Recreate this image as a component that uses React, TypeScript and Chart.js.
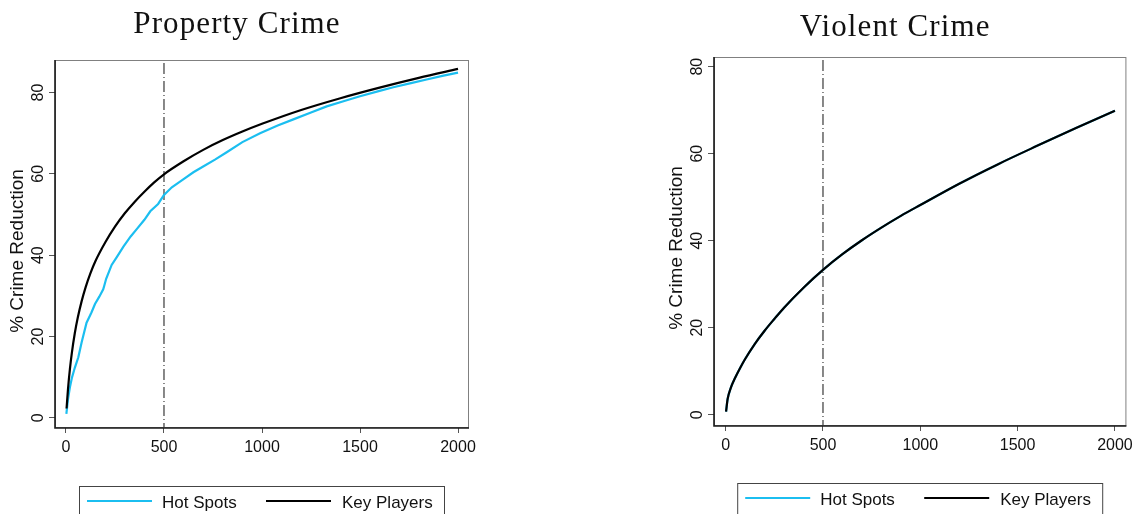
import React, { useEffect, useRef } from "react";
import { Chart, registerables } from "chart.js";

Chart.register(...registerables);

// ---------- data ----------
const xTickValues = [0, 500, 1000, 1500, 2000];
const yTickValues = [0, 20, 40, 60, 80];
const seriesLabels = ["Hot Spots", "Key Players"];
const panelTitles = ["Property Crime", "Violent Crime"];
const yAxisTitle = "% Crime Reduction";
const cutoffValue = 500;

// Property crime – Hot Spots
const propertyHotX = [2, 10, 20, 30, 45, 63, 80, 105, 130, 148, 170, 190, 196, 205, 233, 260, 293, 330, 361, 400, 430, 470, 500, 540, 600, 650, 700, 760, 820, 900, 990, 1080, 1160, 1250, 1330, 1420, 1500, 1600, 1670, 1760, 1840, 1920, 2000];
const propertyHotY = [1.0, 4.5, 7.5, 9.8, 12.3, 14.9, 18.6, 23.4, 25.9, 28.0, 29.8, 31.6, 32.6, 34.2, 37.6, 39.6, 42.1, 44.6, 46.4, 48.7, 50.8, 52.6, 54.8, 56.7, 58.7, 60.4, 61.8, 63.5, 65.3, 67.8, 70.0, 71.9, 73.4, 75.1, 76.6, 77.9, 79.1, 80.4, 81.3, 82.3, 83.2, 84.1, 84.9];

// Property crime – Key Players
const propertyKeyX = [3, 10, 20, 30, 45, 60, 80, 100, 125, 150, 200, 250, 300, 350, 400, 450, 500, 600, 700, 800, 900, 1000, 1200, 1400, 1600, 1800, 2000];
const propertyKeyY = [2.3, 6.9, 12.0, 16.0, 20.8, 24.6, 28.7, 32.1, 35.6, 38.5, 43.1, 47.0, 50.3, 53.1, 55.6, 57.9, 59.9, 63.1, 65.9, 68.3, 70.4, 72.3, 75.7, 78.6, 81.2, 83.6, 85.8];

// Violent crime – Hot Spots (hidden under Key Players)
const violentHotX = [2, 10, 25, 50, 75, 100, 150, 200, 250, 300, 400, 500, 600, 700, 800, 900, 1000, 1200, 1400, 1600, 1800, 2000];
const violentHotY = [0.7, 3.6, 6.0, 8.6, 10.8, 12.8, 16.3, 19.3, 22.0, 24.6, 29.2, 33.3, 36.9, 40.1, 43.0, 45.7, 48.2, 53.1, 57.6, 61.8, 65.9, 69.9];

// Violent crime – Key Players
const violentKeyX = [2, 10, 25, 50, 75, 100, 150, 200, 250, 300, 400, 500, 600, 700, 800, 900, 1000, 1200, 1400, 1600, 1800, 2000];
const violentKeyY = [0.7, 3.6, 6.0, 8.6, 10.8, 12.8, 16.3, 19.3, 22.0, 24.6, 29.2, 33.3, 36.9, 40.1, 43.0, 45.7, 48.2, 53.1, 57.6, 61.8, 65.9, 69.9];

// ---------- styles ----------
const HOT_COLOR = "#1bbef0";
const KEY_COLOR = "#000000";
const SANS = '"Liberation Sans", Arial, Helvetica, sans-serif';
const SERIF = '"Liberation Serif", "Times New Roman", serif';

type Panel = {
  title: string;
  hotX: number[];
  hotY: number[];
  keyX: number[];
  keyY: number[];
  smoothHot: boolean;
  padding: { left: number; top: number; right: number; bottom: number };
  yWidth: number;
  xHeight: number;
  xMin: number;
  xMax: number;
  yMin: number;
  yMax: number;
  titleY: number;
  yTitleCenter: number;
  legendTop: number;
};

const stataPlugin = {
  id: "stata",
  beforeDatasetsDraw(chart: any) {
    const { ctx, chartArea: a, scales } = chart;
    const xp = scales.x.getPixelForValue(cutoffValue);
    ctx.save();
    ctx.strokeStyle = "#3a3a3a";
    ctx.lineWidth = 1.2;
    ctx.setLineDash([11, 3, 1, 3]);
    ctx.beginPath();
    ctx.moveTo(xp, a.top + 3);
    ctx.lineTo(xp, a.bottom);
    ctx.stroke();
    ctx.restore();
  },
  afterDraw(chart: any, _args: any, opts: any) {
    const { ctx, chartArea: a, scales } = chart;
    ctx.save();
    // frame
    ctx.strokeStyle = "#808080";
    ctx.lineWidth = 1;
    ctx.strokeRect(a.left + 0.5, a.top + 0.5, a.right - a.left - 1, a.bottom - a.top - 1);
    ctx.strokeStyle = "#1a1a1a";
    ctx.lineWidth = 1.6;
    ctx.beginPath();
    ctx.moveTo(a.left, a.top);
    ctx.lineTo(a.left, a.bottom);
    ctx.lineTo(a.right, a.bottom);
    ctx.stroke();

    // rotated y tick labels
    ctx.fillStyle = "#111";
    ctx.font = `16px ${SANS}`;
    ctx.textAlign = "center";
    ctx.textBaseline = "alphabetic";
    for (const v of yTickValues) {
      const yp = scales.y.getPixelForValue(v);
      ctx.save();
      ctx.translate(a.left - 12, yp);
      ctx.rotate(-Math.PI / 2);
      ctx.fillText(String(v), 0, 0);
      ctx.restore();
    }

    // y axis title
    ctx.font = `19px ${SANS}`;
    ctx.save();
    ctx.translate(a.left - 32, opts.yTitleCenter);
    ctx.rotate(-Math.PI / 2);
    ctx.fillText(yAxisTitle, 0, 0);
    ctx.restore();

    // panel title
    ctx.font = `31px ${SERIF}`;
    (ctx as any).letterSpacing = "1.1px";
    ctx.fillStyle = "#111";
    ctx.fillText(opts.title, (a.left + a.right) / 2 - 25, opts.titleY);
    (ctx as any).letterSpacing = "0px";

    // legend
    const lw = 366;
    const lx = (a.left + a.right) / 2 - lw / 2;
    const ly = opts.legendTop;
    ctx.fillStyle = "#fff";
    ctx.fillRect(lx, ly, lw, 60);
    ctx.strokeStyle = "#444";
    ctx.lineWidth = 1;
    ctx.strokeRect(lx + 0.5, ly + 0.5, lw - 1, 60);
    const lineY = ly + 15;
    const items = [
      { color: HOT_COLOR, label: seriesLabels[0], x0: 8, tx: 83 },
      { color: KEY_COLOR, label: seriesLabels[1], x0: 187, tx: 263 },
    ];
    ctx.font = `17px ${SANS}`;
    ctx.textAlign = "left";
    for (const it of items) {
      ctx.strokeStyle = it.color;
      ctx.lineWidth = 2.2;
      ctx.beginPath();
      ctx.moveTo(lx + it.x0, lineY);
      ctx.lineTo(lx + it.x0 + 65, lineY);
      ctx.stroke();
      ctx.fillStyle = "#111";
      ctx.fillText(it.label, lx + it.tx, lineY + 7);
    }
    ctx.restore();
  },
};

function buildConfig(p: Panel): any {
  const hot = p.hotX.map((x, i) => ({ x, y: p.hotY[i] }));
  const key = p.keyX.map((x, i) => ({ x, y: p.keyY[i] }));
  return {
    type: "line",
    data: {
      datasets: [
        {
          label: seriesLabels[0],
          data: hot,
          borderColor: HOT_COLOR,
          borderWidth: 2.2,
          pointRadius: 0,
          fill: false,
          tension: p.smoothHot ? 0.4 : 0,
          cubicInterpolationMode: p.smoothHot ? "monotone" : "default",
          order: 1,
        },
        {
          label: seriesLabels[1],
          data: key,
          borderColor: KEY_COLOR,
          borderWidth: 2.2,
          pointRadius: 0,
          fill: false,
          tension: 0.4,
          cubicInterpolationMode: "monotone",
          order: 0,
        },
      ],
    },
    options: {
      responsive: false,
      maintainAspectRatio: false,
      animation: false,
      devicePixelRatio: 1,
      layout: { padding: p.padding },
      plugins: {
        legend: { display: false },
        title: { display: false },
        tooltip: { enabled: false },
        stata: { title: p.title, titleY: p.titleY, yTitleCenter: p.yTitleCenter, legendTop: p.legendTop },
      },
      scales: {
        x: {
          type: "linear",
          min: p.xMin,
          max: p.xMax,
          afterBuildTicks: (s: any) => {
            s.ticks = xTickValues.map((v) => ({ value: v }));
          },
          afterFit: (s: any) => {
            s.height = p.xHeight;
          },
          grid: { drawOnChartArea: false, drawTicks: true, tickLength: 5, color: "#555", lineWidth: 1 },
          border: { display: false },
          ticks: {
            font: { family: SANS, size: 16 },
            color: "#111",
            padding: 5,
            maxRotation: 0,
            minRotation: 0,
            autoSkip: false,
            callback: (v: any) => String(v),
          },
        },
        y: {
          type: "linear",
          min: p.yMin,
          max: p.yMax,
          afterBuildTicks: (s: any) => {
            s.ticks = yTickValues.map((v) => ({ value: v }));
          },
          afterFit: (s: any) => {
            s.width = p.yWidth;
          },
          grid: { drawOnChartArea: false, drawTicks: true, tickLength: 6, color: "#555", lineWidth: 1 },
          border: { display: false },
          ticks: { display: false },
        },
      },
    },
    plugins: [stataPlugin],
  };
}

const panels: Panel[] = [
  {
    title: panelTitles[0],
    hotX: propertyHotX,
    hotY: propertyHotY,
    keyX: propertyKeyX,
    keyY: propertyKeyY,
    smoothHot: false,
    padding: { left: 0, top: 60, right: 100, bottom: 0 },
    yWidth: 55,
    xHeight: 86,
    xMin: -56,
    xMax: 2056,
    yMin: -2.5,
    yMax: 88,
    titleY: 33,
    yTitleCenter: 251,
    legendTop: 486,
  },
  {
    title: panelTitles[1],
    hotX: violentHotX,
    hotY: violentHotY,
    keyX: violentKeyX,
    keyY: violentKeyY,
    smoothHot: true,
    padding: { left: 0, top: 57, right: 10, bottom: 0 },
    yWidth: 145,
    xHeight: 88,
    xMin: -60,
    xMax: 2059,
    yMin: -2.6,
    yMax: 82.23,
    titleY: 36,
    yTitleCenter: 248,
    legendTop: 483,
  },
];

function Panel({ panel, left }: { panel: Panel; left: number }) {
  const ref = useRef<HTMLCanvasElement | null>(null);
  useEffect(() => {
    if (!ref.current) return;
    const chart = new Chart(ref.current, buildConfig(panel));
    return () => chart.destroy();
  }, [panel]);
  return (
    <canvas
      ref={ref}
      width={569}
      height={514}
      style={{ position: "absolute", left, top: 0, width: 569, height: 514, display: "block" }}
    />
  );
}

export default function App() {
  return (
    <div style={{ position: "absolute", left: 0, top: 0, width: 1138, height: 514, background: "#fff", overflow: "hidden" }}>
      <Panel panel={panels[0]} left={0} />
      <Panel panel={panels[1]} left={569} />
    </div>
  );
}
